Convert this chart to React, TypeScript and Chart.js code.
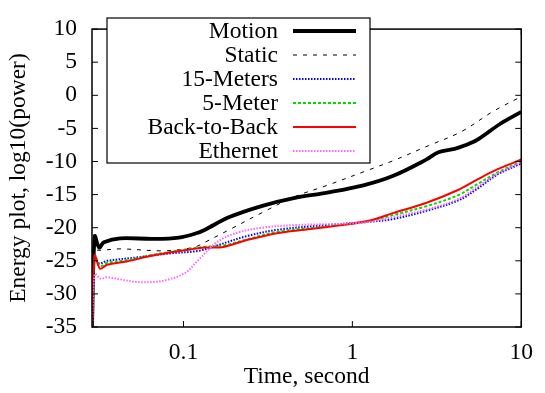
import React, { useEffect, useRef } from "react";
import { Chart, registerables } from "chart.js";

Chart.register(...registerables);

const seriesLabels = ["Motion", "Static", "15-Meters", "5-Meter", "Back-to-Back", "Ethernet"];

const motionX = [0.02874, 0.02984, 0.03165, 0.03382, 0.04219, 0.06588, 0.0939, 0.1205, 0.1341, 0.1871, 0.2933, 0.4571, 0.7099, 1.162, 1.734, 2.704, 3.233, 4.03, 4.61, 5.511, 7.517, 10];
const motionY = [-35, -21.3, -23.0, -22.2, -21.6, -21.7, -21.5, -20.8, -20.3, -18.4, -16.7, -15.5, -14.7, -13.6, -12.2, -9.8, -8.6, -8.1, -7.6, -6.7, -4.3, -2.5];

const staticX = [0.02874, 0.02984, 0.0309, 0.04203, 0.0753, 0.1027, 0.1205, 0.1341, 0.1871, 0.2933, 0.4571, 0.7099, 1.271, 1.734, 2.829, 4.411, 6.848, 10];
const staticY = [-30, -23.0, -23.4, -23.2, -23.5, -23.2, -22.8, -22.2, -20.3, -17.7, -15.3, -13.6, -11.2, -9.9, -7.6, -5.5, -2.4, -0.2];

const metersX = [0.02874, 0.02984, 0.03165, 0.03534, 0.05274, 0.08186, 0.1221, 0.1574, 0.2348, 0.3644, 0.7099, 1.271, 1.734, 2.704, 4.222, 5.511, 7.195, 10];
const metersY = [-35, -24.4, -25.4, -25.0, -24.5, -23.9, -23.5, -22.7, -21.3, -20.3, -19.6, -19.1, -18.7, -17.5, -15.9, -14.1, -12.0, -10.3];

const meterX = [0.02874, 0.02984, 0.03208, 0.03534, 0.04614, 0.06588, 0.1027, 0.1341, 0.1721, 0.2348, 0.3644, 0.7099, 1.271, 1.734, 2.704, 4.222, 5.511, 7.195, 10];
const meterY = [-35, -24.2, -25.8, -25.3, -24.9, -24.1, -23.3, -22.9, -22.7, -21.8, -20.6, -19.8, -19.0, -18.1, -16.8, -15.1, -13.4, -11.7, -10.0];

const backX = [0.02874, 0.02984, 0.03208, 0.03534, 0.04614, 0.06588, 0.1027, 0.1341, 0.1721, 0.2348, 0.3644, 0.7099, 1.271, 1.734, 2.704, 4.222, 5.511, 7.195, 10];
const backY = [-35, -24.2, -26.2, -25.6, -25.1, -24.2, -23.4, -23.0, -22.9, -21.9, -20.8, -19.9, -18.9, -17.8, -16.3, -14.3, -12.7, -11.2, -9.7];

const ethX = [0.02874, 0.02984, 0.03234, 0.03534, 0.04219, 0.05274, 0.06588, 0.0822, 0.1027, 0.1225, 0.1574, 0.2055, 0.2933, 0.4571, 0.8905, 1.271, 1.734, 2.704, 4.222, 5.511, 7.195, 10];
const ethY = [-35, -27.0, -27.7, -27.5, -27.8, -28.2, -28.2, -27.8, -26.8, -24.9, -22.2, -20.8, -20.0, -19.6, -19.4, -19.1, -18.4, -17.3, -15.7, -13.8, -11.9, -10.1];

const xTickValues = [0.1, 1, 10];
const xTickLabels = ["0.1", "1", "10"];
const xMin = 0.02874;
const xMax = 10;
const yMin = -35;
const yMax = 10;
const yStep = 5;

const xTitle = "Time, second";
const yTitle = "Energy plot, log10(power)";

const FONT = "'Liberation Serif', 'Times New Roman', serif";
const FS = 23.5;

const zip = (xs: number[], ys: number[]) => xs.map((x, i) => ({ x, y: ys[i] }));

const styles = [
  { color: "#000000", width: 3.8, dash: [] as number[] },
  { color: "#000000", width: 1, dash: [4, 6] },
  { color: "#0000ff", width: 2, dash: [1.5, 1.5] },
  { color: "#00dd00", width: 2, dash: [3, 2] },
  { color: "#ff0000", width: 2, dash: [] as number[] },
  { color: "#ff66ff", width: 2, dash: [1.5, 1.5] },
];

const framePlugin = {
  id: "framePlugin",
  afterDatasetsDraw(chart: any) {
    const { ctx, chartArea: a, scales } = chart;
    ctx.save();
    ctx.strokeStyle = "#000";
    ctx.lineWidth = 1.5;
    ctx.setLineDash([]);
    ctx.strokeRect(a.left, a.top, a.right - a.left, a.bottom - a.top);
    const tl = 6;
    ctx.lineWidth = 1;
    ctx.beginPath();
    for (let v = yMin; v <= yMax; v += yStep) {
      const y = scales.y.getPixelForValue(v);
      ctx.moveTo(a.left, y);
      ctx.lineTo(a.left + tl, y);
      ctx.moveTo(a.right, y);
      ctx.lineTo(a.right - tl, y);
    }
    xTickValues.forEach((v) => {
      const x = scales.x.getPixelForValue(v);
      ctx.moveTo(x, a.bottom);
      ctx.lineTo(x, a.bottom - tl);
      ctx.moveTo(x, a.top);
      ctx.lineTo(x, a.top + tl);
    });
    ctx.stroke();

    // legend
    const lx0 = 107, ly0 = 18, lx1 = 370, ly1 = 163;
    ctx.fillStyle = "#fff";
    ctx.fillRect(lx0, ly0, lx1 - lx0, ly1 - ly0);
    ctx.lineWidth = 1.2;
    ctx.strokeStyle = "#000";
    ctx.strokeRect(lx0, ly0, lx1 - lx0, ly1 - ly0);
    ctx.font = `${FS}px ${FONT}`;
    ctx.textAlign = "right";
    ctx.textBaseline = "middle";
    chart.data.datasets.forEach((ds: any, i: number) => {
      const y = 31 + i * 24;
      ctx.fillStyle = "#000";
      ctx.fillText(ds.label, 278, y + 1);
      ctx.beginPath();
      ctx.strokeStyle = ds.borderColor;
      ctx.lineWidth = ds.borderWidth;
      ctx.setLineDash(ds.borderDash || []);
      ctx.moveTo(293, y);
      ctx.lineTo(356, y);
      ctx.stroke();
    });
    ctx.restore();
  },
};

export default function App() {
  const ref = useRef<HTMLCanvasElement | null>(null);
  useEffect(() => {
    document.body.style.margin = "0";
    const canvas = ref.current!;
    const xs = [motionX, staticX, metersX, meterX, backX, ethX];
    const ys = [motionY, staticY, metersY, meterY, backY, ethY];
    const chart = new Chart(canvas, {
      type: "line",
      data: {
        datasets: seriesLabels.map((label, i) => ({
          label,
          data: zip(xs[i], ys[i]),
          borderColor: styles[i].color,
          borderWidth: styles[i].width,
          borderDash: styles[i].dash,
          pointRadius: 0,
          fill: false,
          tension: 0.35,
          order: 6 - i,
        })),
      },
      options: {
        responsive: false,
        animation: false,
        layout: { padding: { top: 14, right: 14, left: 0, bottom: 0 } },
        plugins: { legend: { display: false }, tooltip: { enabled: false } },
        scales: {
          x: {
            type: "logarithmic",
            min: xMin,
            max: xMax,
            afterBuildTicks: (s: any) => {
              s.ticks = xTickValues.map((v) => ({ value: v }));
            },
            afterFit: (s: any) => {
              s.height = 66;
            },
            grid: { display: false, drawTicks: false },
            border: { display: false },
            ticks: {
              padding: 12,
              color: "#000",
              font: { family: FONT, size: FS },
              maxRotation: 0,
              autoSkip: false,
              callback: (v: any) => {
                const idx = xTickValues.indexOf(Number(v));
                return idx >= 0 ? xTickLabels[idx] : "";
              },
            },
            title: {
              display: true,
              text: xTitle,
              color: "#000",
              font: { family: FONT, size: FS },
              padding: { top: 0, bottom: 2 },
            },
          },
          y: {
            type: "linear",
            min: yMin,
            max: yMax,
            afterFit: (s: any) => {
              s.width = 92;
            },
            grid: { display: false, drawTicks: false },
            border: { display: false },
            ticks: {
              stepSize: yStep,
              padding: 15,
              color: "#000",
              font: { family: FONT, size: FS },
              callback: (v: any) => String(v),
            },
            title: {
              display: true,
              text: yTitle,
              color: "#000",
              font: { family: FONT, size: FS },
              padding: { top: 5, bottom: 0 },
            },
          },
        },
      },
      plugins: [framePlugin],
    } as any);
    return () => chart.destroy();
  }, []);
  return <canvas ref={ref} width={545} height={393} style={{ display: "block" }} />;
}
